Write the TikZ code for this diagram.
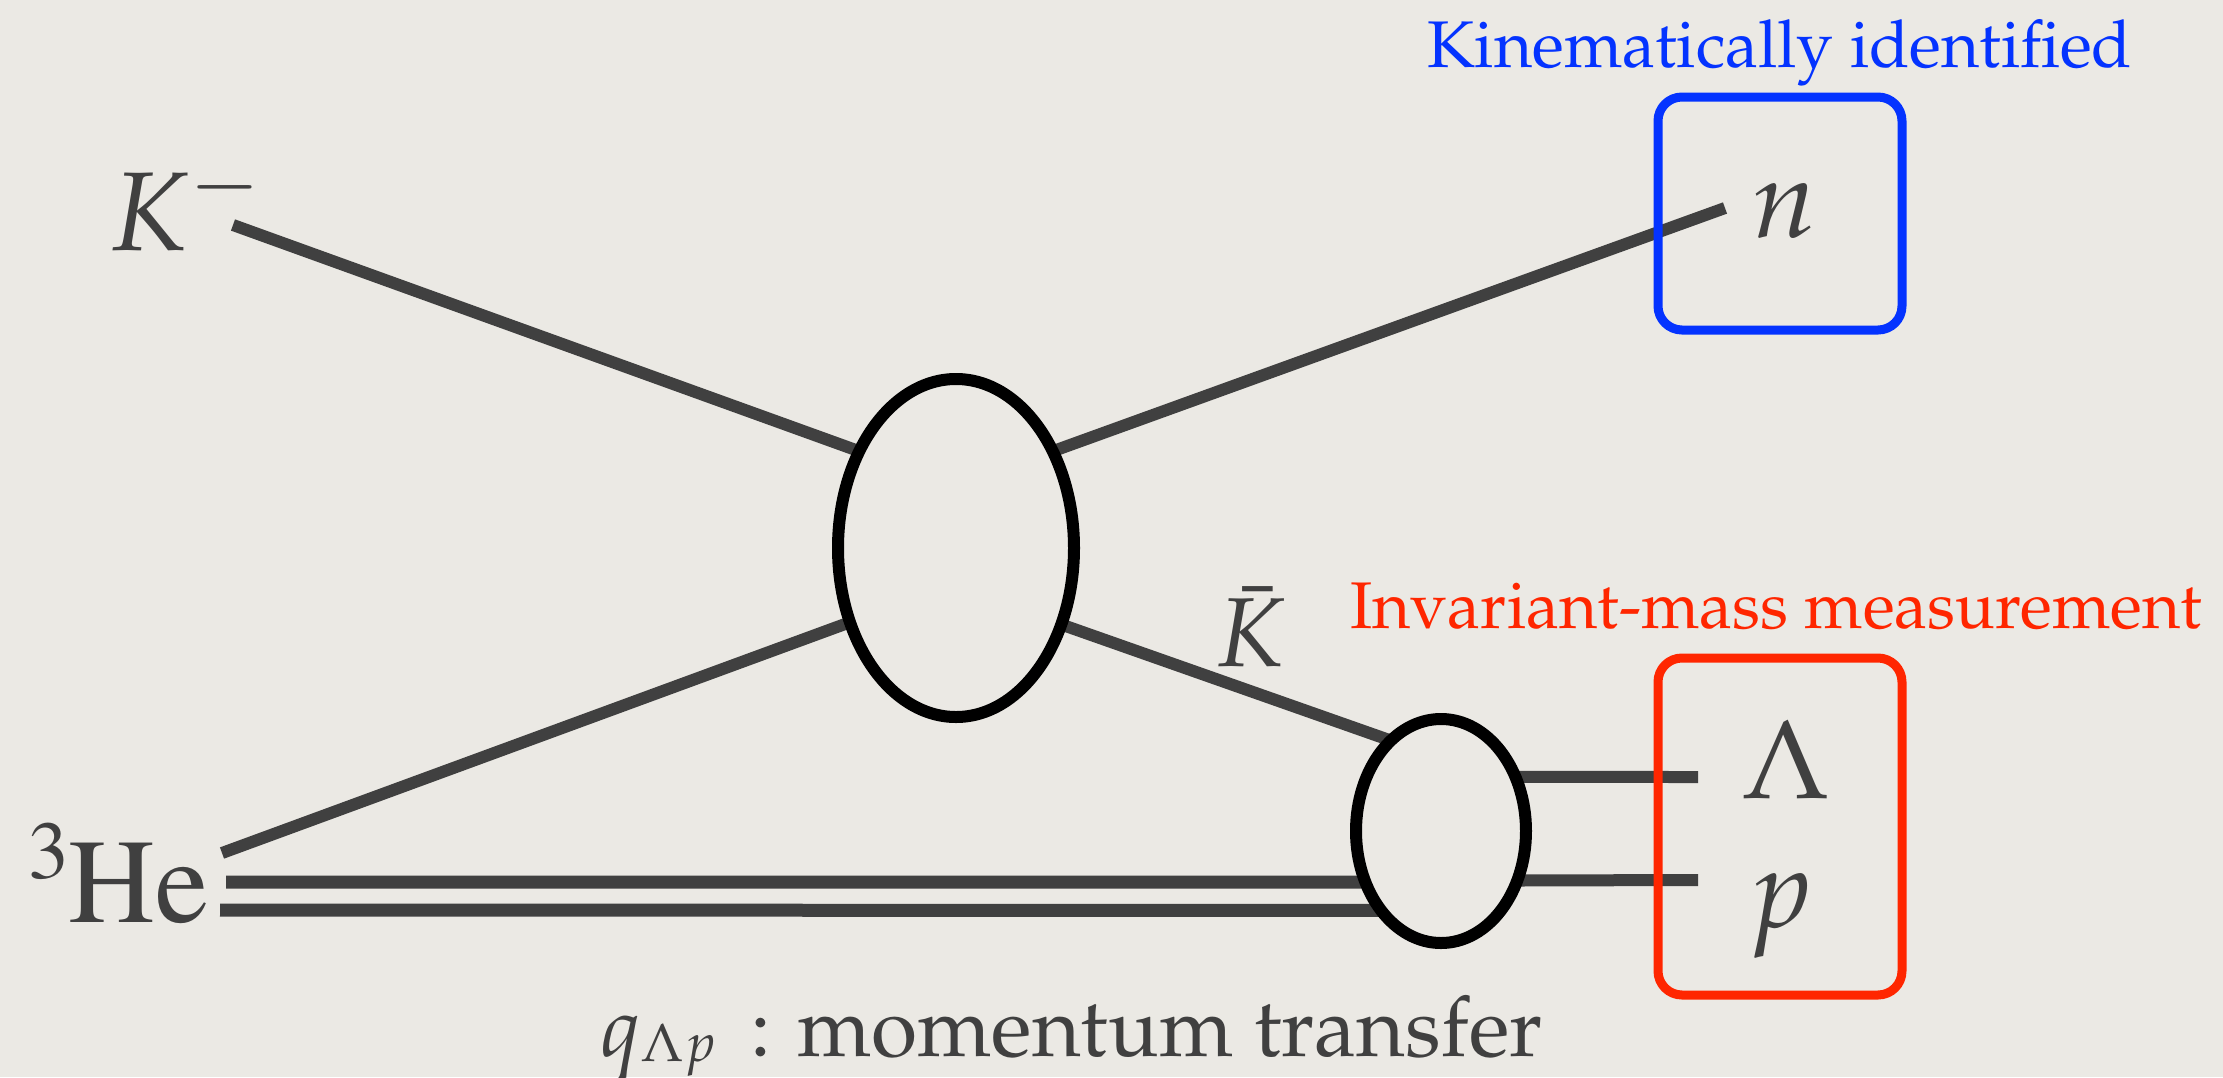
\documentclass[tikz,border=0pt]{standalone}
\usepackage[T1]{fontenc}
\usepackage{mathpazo}
\usetikzlibrary{shapes.geometric,backgrounds}
\definecolor{ink}{RGB}{64,64,64}
\definecolor{paper}{RGB}{235,233,228}
\definecolor{kblue}{RGB}{4,51,255}
\definecolor{kred}{RGB}{255,38,0}
\begin{document}
\begin{tikzpicture}[x=0.5pt,y=-0.5pt,
  prop/.style={draw=ink, line width=6pt},
  blob/.style={ellipse, draw=black, line width=6pt, inner sep=0pt, outer sep=0pt},
  lbl/.style={inner sep=0pt, outer sep=0pt, anchor=base west, text=ink},
  markbox/.style={rectangle, rounded corners=12pt, line width=4.5pt, inner sep=0pt, outer sep=0pt}]
\useasboundingbox (0,0) rectangle (2223,1077);
% vertices
\node[blob, minimum width=118pt, minimum height=169pt] (big) at (956,548) {};
\node[blob, minimum width=85pt, minimum height=112pt] (small) at (1441,831) {};
% free ends
\coordinate (kin) at (233,225);
\coordinate (nend) at (1725,208);
\coordinate (hein) at (222,853);
\coordinate (he1) at (226,882);
\coordinate (he2) at (220,910);
\coordinate (lamend) at (1698,777);
\coordinate (pend) at (1698,880);
\begin{scope}[on background layer]
\fill[paper] (0,0) rectangle (2223,1077);
\draw[prop] (kin) -- (big.135);
\draw[prop] (big.45) -- (nend);
\draw[prop] (hein) -- (big.215);
\draw[prop] (big.324) -- (small.119);
\draw[prop, line width=6.5pt] (he1) -- (small.214);
\draw[prop, line width=6.5pt] (he2) -- (small.233);
\draw[prop] (small.36) -- (lamend);
\draw[prop] (small.327) -- (pend);
\end{scope}
% labels
\node[lbl, font=\fontsize{56}{60}\selectfont] (km) at (110,250) {$K^-$};
\node[lbl, font=\fontsize{49}{52}\selectfont] (kbar) at (1216,666) {$\bar{K}$};
\node[lbl, font=\fontsize{56}{60}\selectfont] (nlab) at (1752,237) {$n$};
\node[lbl, font=\fontsize{56}{60}\selectfont] (lam) at (1741,798) {$\Lambda$};
\node[lbl, font=\fontsize{56}{60}\selectfont] (plab) at (1748,927) {$p$};
\node[lbl, font=\fontfamily{ptm}\fontsize{60}{64}\selectfont] (he) at (28,922) {\raisebox{22pt}{\fontsize{41}{41}\selectfont 3}He};
\node[lbl, text=kblue, font=\fontsize{33}{40}\selectfont] (kinlab) at (1427,67) {Kinematically identified};
\node[lbl, text=kred, font=\fontsize{33}{38}\selectfont] (invlab) at (1350,628) {Invariant-mass measurement};
\node[lbl, font=\fontsize{42}{46}\selectfont] (qlab) at (600,1056) {$q$\raisebox{-2.5pt}{\fontsize{27}{27}\selectfont$\Lambda p$}\ \,: momentum transfer};
% boxes
\node[markbox, draw=kblue, minimum width=122pt, minimum height=116.5pt] (nbox) at (1780,213.5) {};
\node[markbox, draw=kred, minimum width=122pt, minimum height=168.5pt] (lpbox) at (1780,826.5) {};
\end{tikzpicture}
\end{document}
